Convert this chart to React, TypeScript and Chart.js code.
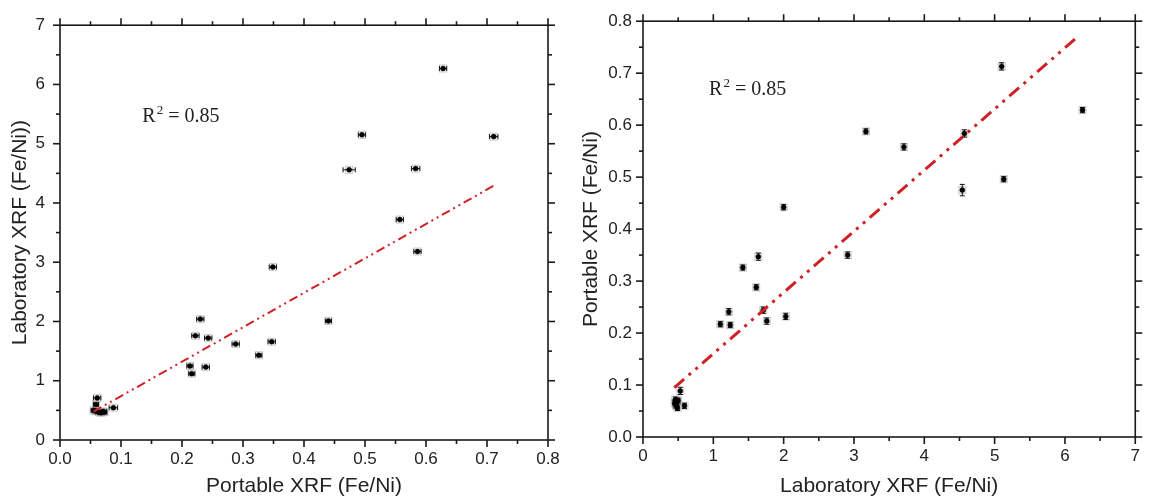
import React, { useEffect, useRef } from "react";
import { Chart, registerables } from "chart.js";
Chart.register(...registerables);

// ---------- Left chart: Portable (x) vs Laboratory (y) ----------
const leftPortable = [0.628, 0.711, 0.495, 0.474, 0.583, 0.557, 0.586, 0.349, 0.44, 0.23, 0.222, 0.243, 0.288, 0.347, 0.326, 0.213, 0.216, 0.239, 0.061, 0.059, 0.0875, 0.055, 0.063, 0.071, 0.067, 0.073, 0.058];
const leftLab = [6.27, 5.12, 5.15, 4.56, 4.58, 3.72, 3.18, 2.92, 2.01, 2.04, 1.76, 1.72, 1.62, 1.66, 1.43, 1.25, 1.12, 1.23, 0.71, 0.6, 0.545, 0.5, 0.47, 0.48, 0.46, 0.47, 0.49];
const leftPortableErr = [0.006, 0.007, 0.006, 0.01, 0.007, 0.006, 0.006, 0.006, 0.005, 0.006, 0.006, 0.006, 0.006, 0.006, 0.005, 0.005, 0.005, 0.006, 0.006, 0.004, 0.007, 0.004, 0.005, 0.005, 0.004, 0.004, 0.004];
const leftFitRange = [0.055, 0.711];
const leftFitSlope = 5.81;
const leftFitIntercept = 0.16;
const leftXTickLabels = ["0.0", "0.1", "0.2", "0.3", "0.4", "0.5", "0.6", "0.7", "0.8"];
const leftYTickLabels = ["0", "1", "2", "3", "4", "5", "6", "7"];

// ---------- Right chart: Laboratory (x) vs Portable (y) ----------
const rightLab = [6.25, 5.1, 5.13, 4.54, 4.57, 3.71, 3.17, 2.91, 2.0, 2.03, 1.76, 1.71, 1.61, 1.64, 1.42, 1.24, 1.1, 1.22, 0.53, 0.59, 0.46, 0.48, 0.45, 0.47, 0.49, 0.5, 0.47];
const rightPortable = [0.629, 0.713, 0.496, 0.475, 0.584, 0.558, 0.588, 0.35, 0.442, 0.232, 0.223, 0.244, 0.288, 0.347, 0.326, 0.2155, 0.217, 0.241, 0.0887, 0.06, 0.072, 0.068, 0.065, 0.06, 0.056, 0.07, 0.063];
const rightPortableErr = [0.005, 0.007, 0.005, 0.011, 0.007, 0.006, 0.005, 0.006, 0.005, 0.006, 0.006, 0.006, 0.005, 0.007, 0.005, 0.005, 0.005, 0.006, 0.007, 0.005, 0.005, 0.005, 0.005, 0.005, 0.005, 0.005, 0.005];
const rightFitRange = [0.445, 6.18];
const rightFitSlope = 0.1177;
const rightFitIntercept = 0.0426;
const rightXTickLabels = ["0", "1", "2", "3", "4", "5", "6", "7"];
const rightYTickLabels = ["0.0", "0.1", "0.2", "0.3", "0.4", "0.5", "0.6", "0.7", "0.8"];

const r2Text = "0.85";

const SANS = '"Liberation Sans", Arial, sans-serif';
const SERIF = '"Liberation Serif", "Times New Roman", serif';
const TEXT = "#222222";
const RED = "rgb(208,32,38)";

const framePlugin = {
  id: "frameTicks",
  afterDraw(chart: any) {
    const { ctx, chartArea } = chart;
    const { left, right, top, bottom } = chartArea;
    const xs = chart.scales.x;
    const ys = chart.scales.y;
    ctx.save();
    ctx.strokeStyle = "#1a1a1a";
    ctx.lineWidth = 1.6;
    ctx.strokeRect(left, top, right - left, bottom - top);
    const major = 7;
    const minor = 4;
    const seg = (x1: number, y1: number, x2: number, y2: number) => {
      ctx.beginPath();
      ctx.moveTo(x1, y1);
      ctx.lineTo(x2, y2);
      ctx.stroke();
    };
    const xv = xs.ticks.map((t: any) => t.value);
    xv.forEach((v: number, i: number) => {
      const px = xs.getPixelForValue(v);
      seg(px, bottom, px, bottom + major);
      seg(px, top, px, top - major);
      if (i < xv.length - 1) {
        const m = xs.getPixelForValue((v + xv[i + 1]) / 2);
        seg(m, bottom, m, bottom + minor);
        seg(m, top, m, top - minor);
      }
    });
    const yv = ys.ticks.map((t: any) => t.value);
    yv.forEach((v: number, i: number) => {
      const py = ys.getPixelForValue(v);
      seg(left, py, left - major, py);
      seg(right, py, right + major, py);
      if (i < yv.length - 1) {
        const m = ys.getPixelForValue((v + yv[i + 1]) / 2);
        seg(left, m, left - minor, m);
        seg(right, m, right + minor, m);
      }
    });
    ctx.restore();
  },
};

const errorBarPlugin = {
  id: "errorBars",
  beforeDatasetsDraw(chart: any, _args: any, opts: any) {
    const { ctx } = chart;
    const xs = chart.scales.x;
    const ys = chart.scales.y;
    const xsVals: number[] = opts.xVals || [];
    const ysVals: number[] = opts.yVals || [];
    const errs: number[] = opts.errs || [];
    const dir: string = opts.dir || "x";
    ctx.save();
    ctx.lineWidth = 1;
    const cap = 2.5;
    xsVals.forEach((xv, i) => {
      const yv = ysVals[i];
      const e = errs[i];
      const cx = xs.getPixelForValue(xv);
      const cy = ys.getPixelForValue(yv);
      ctx.strokeStyle = "rgba(130,130,130,0.45)";
      ctx.strokeRect(cx - 3.5, cy - 3.5, 7, 7);
      ctx.strokeStyle = "#111";
      if (dir === "x") {
        const x1 = xs.getPixelForValue(xv - e);
        const x2 = xs.getPixelForValue(xv + e);
        ctx.beginPath();
        ctx.moveTo(x1, cy);
        ctx.lineTo(x2, cy);
        ctx.moveTo(x1, cy - cap);
        ctx.lineTo(x1, cy + cap);
        ctx.moveTo(x2, cy - cap);
        ctx.lineTo(x2, cy + cap);
        ctx.stroke();
      } else {
        const y1 = ys.getPixelForValue(yv - e);
        const y2 = ys.getPixelForValue(yv + e);
        ctx.beginPath();
        ctx.moveTo(cx, y1);
        ctx.lineTo(cx, y2);
        ctx.moveTo(cx - cap, y1);
        ctx.lineTo(cx + cap, y1);
        ctx.moveTo(cx - cap, y2);
        ctx.lineTo(cx + cap, y2);
        ctx.stroke();
      }
    });
    ctx.restore();
  },
};

const r2Plugin = {
  id: "r2Label",
  afterDraw(chart: any, _args: any, opts: any) {
    const { ctx } = chart;
    const x = chart.scales.x.getPixelForValue(opts.x);
    const y = chart.scales.y.getPixelForValue(opts.y);
    ctx.save();
    ctx.fillStyle = TEXT;
    ctx.textBaseline = "alphabetic";
    ctx.textAlign = "left";
    ctx.font = `20px ${SERIF}`;
    ctx.fillText("R", x, y);
    let w = ctx.measureText("R").width;
    ctx.font = `13px ${SERIF}`;
    ctx.fillText("2", x + w + 1, y - 8);
    w += ctx.measureText("2").width + 1;
    ctx.font = `20px ${SERIF}`;
    ctx.fillText(" = " + opts.text, x + w, y);
    ctx.restore();
  },
};

function makeConfig(p: any) {
  const pts = p.xVals.map((x: number, i: number) => ({ x, y: p.yVals[i] }));
  const fit = p.fitRange.map((x: number) => ({ x, y: p.slope * x + p.intercept }));
  return {
    type: "scatter",
    data: {
      datasets: [
        {
          data: fit,
          showLine: true,
          borderColor: RED,
          borderWidth: p.lineWidth,
          borderDash: p.dash,
          pointRadius: 0,
          fill: false,
        },
        {
          data: pts,
          pointRadius: 2.5,
          pointBackgroundColor: "#000",
          pointBorderColor: "#000",
          pointBorderWidth: 0.5,
          showLine: false,
        },
      ],
    },
    options: {
      animation: false,
      responsive: false,
      maintainAspectRatio: false,
      layout: { padding: { top: 16, right: p.padRight, left: 0, bottom: 0 } },
      plugins: {
        legend: { display: false },
        tooltip: { enabled: false },
        errorBars: { xVals: p.xVals, yVals: p.yVals, errs: p.errs, dir: p.dir },
        r2Label: { x: p.r2x, y: p.r2y, text: r2Text },
      },
      scales: {
        x: {
          type: "linear",
          min: 0,
          max: p.xMax,
          grid: { display: false, drawTicks: false },
          border: { display: false },
          ticks: {
            stepSize: p.xStep,
            padding: 9,
            color: TEXT,
            font: { family: SANS, size: 17 },
            maxRotation: 0,
            autoSkip: false,
            callback: (_v: any, i: number) => p.xLabels[i],
          },
          title: {
            display: true,
            text: p.xTitle,
            color: TEXT,
            font: { family: SANS, size: 21 },
            padding: { top: 0, bottom: 0 },
          },
          afterFit: (s: any) => {
            s.height = p.xAxisHeight;
          },
        },
        y: {
          type: "linear",
          min: 0,
          max: p.yMax,
          grid: { display: false, drawTicks: false },
          border: { display: false },
          ticks: {
            stepSize: p.yStep,
            padding: p.yLabelPad,
            color: TEXT,
            font: { family: SANS, size: 17 },
            autoSkip: false,
            callback: (_v: any, i: number) => p.yLabels[i],
          },
          title: {
            display: true,
            text: p.yTitle,
            color: TEXT,
            font: { family: SANS, size: 21 },
            padding: { top: p.yTitlePad, bottom: 0 },
          },
          afterFit: (s: any) => {
            s.width = p.yAxisWidth;
          },
        },
      },
    },
    plugins: [errorBarPlugin, framePlugin, r2Plugin],
  };
}

function ChartCanvas({ config, width, height, left }: any) {
  const ref = useRef<HTMLCanvasElement | null>(null);
  useEffect(() => {
    if (!ref.current) return;
    const chart = new Chart(ref.current, config as any);
    return () => chart.destroy();
  }, []);
  return (
    <canvas
      ref={ref}
      width={width}
      height={height}
      style={{ position: "absolute", left, top: 0, width, height }}
    />
  );
}

export default function App() {
  const leftConfig = makeConfig({
    xVals: leftPortable,
    yVals: leftLab,
    errs: leftPortableErr,
    dir: "x",
    fitRange: leftFitRange,
    slope: leftFitSlope,
    intercept: leftFitIntercept,
    xMax: 0.8,
    yMax: 7,
    xStep: 0.1,
    yStep: 1,
    xLabels: leftXTickLabels,
    yLabels: leftYTickLabels,
    xTitle: "Portable XRF (Fe/Ni)",
    yTitle: "Laboratory XRF (Fe/Ni))",
    yAxisWidth: 60,
    xAxisHeight: 59,
    padRight: 22,
    yLabelPad: 15,
    yTitlePad: 8,
    lineWidth: 2,
    dash: [9, 4, 2, 4, 2, 4],
    r2x: 0.135,
    r2y: 5.36,
  });
  const rightConfig = makeConfig({
    xVals: rightLab,
    yVals: rightPortable,
    errs: rightPortableErr,
    dir: "y",
    fitRange: rightFitRange,
    slope: rightFitSlope,
    intercept: rightFitIntercept,
    xMax: 7,
    yMax: 0.8,
    xStep: 1,
    yStep: 0.1,
    xLabels: rightXTickLabels,
    yLabels: rightYTickLabels,
    xTitle: "Laboratory XRF (Fe/Ni)",
    yTitle: "Portable XRF (Fe/Ni)",
    yAxisWidth: 73,
    xAxisHeight: 62,
    padRight: 9,
    yLabelPad: 11,
    yTitlePad: 9,
    lineWidth: 3,
    dash: [13, 6, 3, 6, 3, 6],
    r2x: 0.94,
    r2y: 0.658,
  });
  return (
    <div style={{ position: "absolute", left: 0, top: 0, width: 1149, height: 499, background: "#fff", overflow: "hidden" }}>
      <ChartCanvas config={leftConfig} width={570} height={499} left={0} />
      <ChartCanvas config={rightConfig} width={579} height={499} left={570} />
    </div>
  );
}
